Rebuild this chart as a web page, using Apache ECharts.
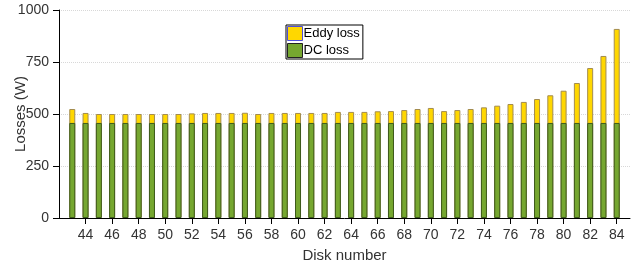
<!doctype html>
<html>
    <head>
        <meta charset="utf-8">
        <title>Losses per disk</title>
        <style>
            html, body { margin: 0; padding: 0; background: #fff; }
            #main { width: 632px; height: 266px; }
        </style>
    </head>
    <body>
        <div id="main"></div>
        <script src="https://cdn.jsdelivr.net/npm/echarts@6/dist/echarts.min.js"></script>
        <script>

            var disks = [43, 44, 45, 46, 47, 48, 49, 50, 51, 52, 53, 54, 55, 56,
                         57, 58, 59, 60, 61, 62, 63, 64, 65, 66, 67, 68, 69, 70,
                         71, 72, 73, 74, 75, 76, 77, 78, 79, 80, 81, 82, 83, 84];
            var dcLoss = 457;
            // total (DC + eddy) height of each bar
            var totalLoss = [524, 505, 500, 500, 500, 500, 500, 500, 500, 503, 505, 505, 505, 506,
                             500, 505, 505, 505, 505, 505, 510, 510, 510, 513, 514, 519, 524, 529,
                             514, 519, 524, 532, 540, 548, 558, 572, 590, 612, 649, 721, 779, 909];
            var xTicks = [44, 46, 48, 50, 52, 54, 56, 58, 60, 62, 64, 66, 68, 70,
                          72, 74, 76, 78, 80, 82, 84];

            var dcData = disks.map(function (d) { return [d, dcLoss]; });
            var totalData = disks.map(function (d, i) { return [d, totalLoss[i]]; });

            var myChart = echarts.init(document.getElementById('main'));

            var font = 'Liberation Sans, Arial, sans-serif';

            myChart.setOption({
                animation: false,
                grid: { left: 59, right: 2, top: 10, bottom: 48, outerBoundsMode: 'none' },
                legend: {
                    orient: 'vertical',
                    left: 286,
                    top: 25,
                    padding: [1, 3, 1, 1],
                    itemGap: 2,
                    itemWidth: 15,
                    itemHeight: 14,
                    icon: 'rect',
                    borderColor: '#000',
                    borderWidth: 1,
                    borderRadius: 0,
                    backgroundColor: '#fff',
                    textStyle: { fontFamily: font, fontSize: 13, lineHeight: 14, color: '#000', padding: [0, 0, 0, -4] },
                    data: [
                        { name: 'Eddy loss', itemStyle: { borderColor: '#4f4fd9', borderWidth: 1 } },
                        { name: 'DC loss', itemStyle: { borderColor: '#222', borderWidth: 1 } }
                    ]
                },
                xAxis: {
                    type: 'value',
                    min: 42,
                    max: 85,
                    interval: 2,
                    name: 'Disk number',
                    nameLocation: 'middle',
                    nameGap: 30,
                    nameMoveOverlap: false,
                    nameTextStyle: { fontFamily: font, fontSize: 15, color: '#333' },
                    axisLine: { lineStyle: { color: '#000', width: 1 } },
                    axisTick: { length: 6, customValues: xTicks, lineStyle: { color: '#000' } },
                    axisLabel: { customValues: xTicks, fontFamily: font, fontSize: 14, color: '#333', margin: 10 },
                    splitLine: { show: false }
                },
                yAxis: {
                    type: 'value',
                    min: 0,
                    max: 1000,
                    interval: 250,
                    name: 'Losses (W)',
                    nameLocation: 'middle',
                    nameGap: 31,
                    nameMoveOverlap: false,
                    nameTextStyle: { fontFamily: font, fontSize: 15, color: '#333' },
                    axisLine: { show: true, lineStyle: { color: '#000', width: 1 } },
                    axisTick: { show: true, length: 6, lineStyle: { color: '#000' } },
                    axisLabel: {
                        fontFamily: font, fontSize: 14, color: '#333', margin: 10,
                        formatter: function (v) { return String(v); }
                    },
                    splitLine: { lineStyle: { color: '#d8d8d8', type: 'dotted' } }
                },
                series: [{
                    type: 'bar',
                    name: 'Eddy loss',
                    barWidth: 6,
                    barGap: '-100%',
                    itemStyle: { color: '#ffd700', borderColor: '#a38c4f', borderWidth: 1 },
                    data: totalData
                }, {
                    type: 'bar',
                    name: 'DC loss',
                    barWidth: 6,
                    barGap: '-100%',
                    itemStyle: { color: '#76a730', borderColor: '#3d5a1c', borderWidth: 1 },
                    data: dcData
                }]
            });

        </script>
    </body>
</html>
